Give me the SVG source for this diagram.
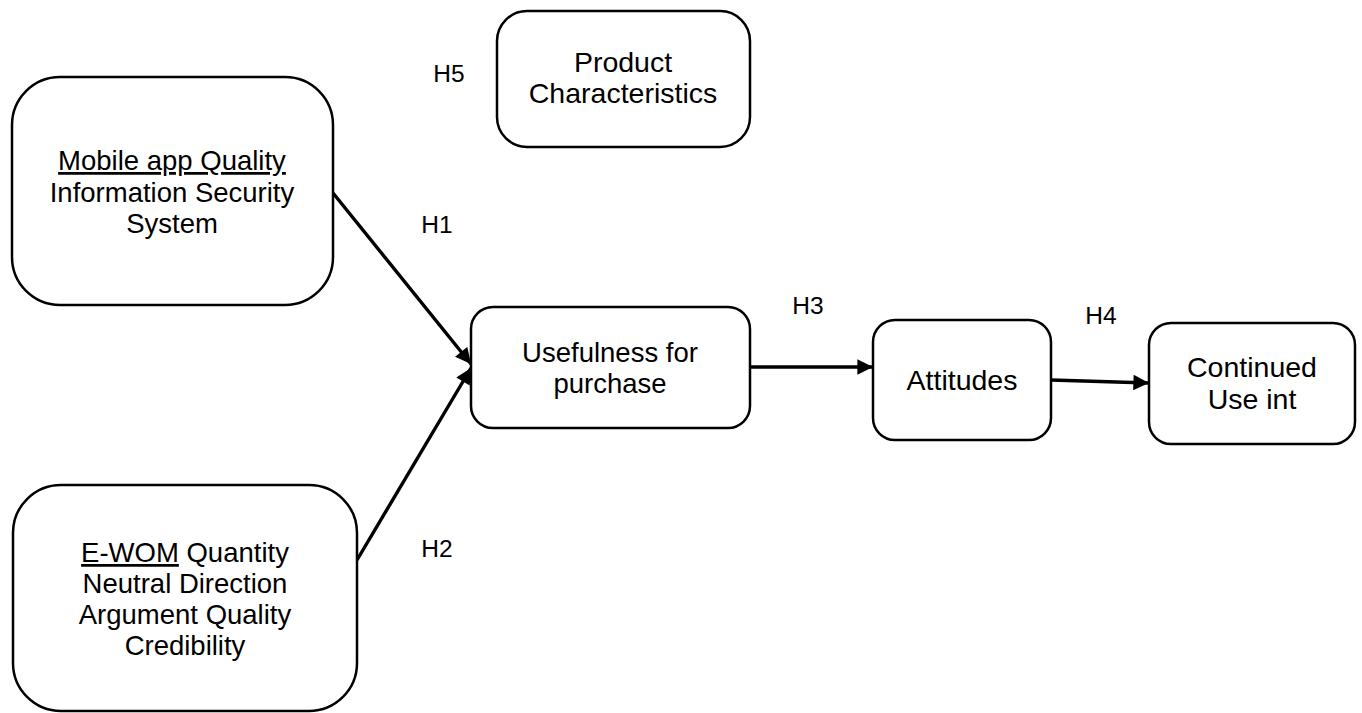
<svg xmlns="http://www.w3.org/2000/svg" width="1362" height="713" viewBox="0 0 1362 713">
  <style>
    .box { fill: #ffffff; stroke: #000000; stroke-width: 2.5; }
    .lbl { font-family: "Liberation Sans", Arial, sans-serif; font-size: 27.5px; fill: #000000; text-anchor: middle; }
    .big { font-size: 28.5px; }
    .hyp { font-family: "Liberation Sans", Arial, sans-serif; font-size: 24.5px; fill: #000000; text-anchor: middle; }
    .edge { stroke: #000000; stroke-width: 3.4; fill: none; marker-end: url(#head); }
  </style>
  <defs>
    <marker id="head" viewBox="0 0 10 10" refX="10" refY="5" markerWidth="5" markerHeight="4.6" orient="auto" markerUnits="strokeWidth">
      <path d="M0,0 L10,5 L0,10 Z" fill="#000000"/>
    </marker>
  </defs>
  <rect width="1362" height="713" fill="#ffffff"/>

  <!-- connectors -->
  <g id="connectors">
    <line class="edge" x1="333" y1="193" x2="471" y2="364"/>
    <line class="edge" x1="357" y1="560" x2="471" y2="368"/>
    <line class="edge" x1="750" y1="367" x2="873" y2="367"/>
    <line class="edge" x1="1051" y1="380" x2="1149" y2="383"/>
  </g>

  <!-- hypothesis labels -->
  <g id="hypotheses">
    <text class="hyp" x="449" y="82">H5</text>
    <text class="hyp" x="437" y="233">H1</text>
    <text class="hyp" x="437" y="557">H2</text>
    <text class="hyp" x="808" y="314">H3</text>
    <text class="hyp" x="1101" y="324">H4</text>
  </g>

  <g id="node-product">
    <rect class="box" x="497" y="11" width="253" height="136" rx="30"/>
    <text class="lbl big" x="623" y="72">Product</text>
    <text class="lbl big" x="623" y="103">Characteristics</text>
  </g>

  <g id="node-mobile">
    <rect class="box" x="12" y="77" width="321" height="228" rx="48"/>
    <text class="lbl" x="172" y="170" text-decoration="underline">Mobile app Quality</text>
    <text class="lbl" x="172" y="202">Information Security</text>
    <text class="lbl" x="172" y="233">System</text>
  </g>

  <g id="node-usefulness">
    <rect class="box" x="471" y="307" width="279" height="121" rx="22"/>
    <text class="lbl" x="610" y="362">Usefulness for</text>
    <text class="lbl" x="610" y="393">purchase</text>
  </g>

  <g id="node-attitudes">
    <rect class="box" x="873" y="320" width="178" height="120" rx="22"/>
    <text class="lbl big" x="962" y="390">Attitudes</text>
  </g>

  <g id="node-continued">
    <rect class="box" x="1149" y="323" width="206" height="121" rx="22"/>
    <text class="lbl big" x="1252" y="377">Continued</text>
    <text class="lbl big" x="1252" y="409">Use int</text>
  </g>

  <g id="node-ewom">
    <rect class="box" x="13" y="485" width="344" height="226" rx="48"/>
    <text class="lbl" x="185" y="562"><tspan text-decoration="underline">E-WOM</tspan> Quantity</text>
    <text class="lbl" x="185" y="593">Neutral Direction</text>
    <text class="lbl" x="185" y="624">Argument Quality</text>
    <text class="lbl" x="185" y="655">Credibility</text>
  </g>
</svg>
